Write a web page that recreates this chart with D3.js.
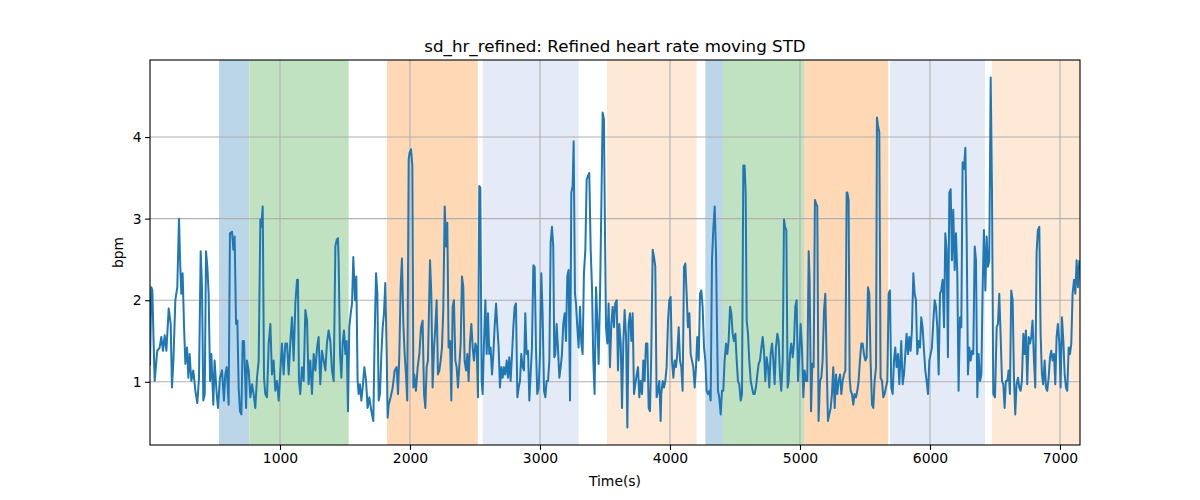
<!DOCTYPE html>
<html><head><meta charset="utf-8">
<script src="https://cdn.jsdelivr.net/npm/d3@7"></script>
<style>body{margin:0;background:#fff}svg{font-family:"DejaVu Sans",sans-serif}</style>
</head><body>
<script>
const title = "sd_hr_refined: Refined heart rate moving STD";
const xLabel = "Time(s)";
const yLabel = "bpm";
const xTicks = [1000,2000,3000,4000,5000,6000,7000];
const yTicks = [1,2,3,4];
const xMax = 7154;

const spanStart = [531,764,1823,2559,3515,4272,4408,5036,5692,6477];
const spanEnd   = [764,1528,2521,3297,4205,4408,5036,5679,6423,7154];
const spanKind  = ["blue","green","orange","lblue","lorange","blue","green","orange","lblue","lorange"];

const times = [0,10,18,28,36,49,56,74,87,100,113,126,144,159,169,180,195,210,223,233,241,251,262,272,285,295,305,318,333,349,364,377,390,400,410,421,431,441,451,462,472,487,497,513,523,538,554,569,579,590,605,615,631,641,651,662,672,682,692,703,713,723,
739,746,759,772,785,797,810,823,836,849,856,867,877,887,900,913,926,938,951,964,977,990,1003,1015,1028,1041,1054,1067,1079,1092,1105,1118,1131,1138,1146,1156,1169,1182,1195,1208,1220,1233,1246,1259,1272,1285,1297,1310,1323,1336,1349,1361,1374,1387,1400,1413,1426,1436,1446,
1451,1462,1472,1482,1492,1503,1513,1523,1533,1544,1554,1564,1577,1587,1597,1605,1615,1626,1636,1649,1662,1674,1687,1703,1718,1728,1739,1749,1759,1769,1780,1790,1800,1810,1821,1828,1836,1851,1867,1882,1897,1908,1918,1928,1938,1949,1959,1969,1979,1990,1997,2008,2018,2026,2033,2046,2059,2072,2085,2097,2108,2118,2128,2138,2154,2164,
2174,2185,2195,2205,2215,2226,2236,2246,2256,2267,2277,2287,2297,2308,2318,2328,2338,2349,2359,2369,2379,2390,2400,2410,2420,2431,2441,2451,2461,2472,2482,2492,2503,2513,2523,2533,2541,2551,2559,2569,2580,2590,2600,2610,2620,2631,2641,2651,2662,2672,2682,2692,2703,2713,2723,2733,2744,2754,2764,2774,2785,2795,2805,2815,2826,2836,2846,2856,2867,2877,
2887,2897,2908,2918,2928,2938,2949,2959,2969,2979,2990,3000,3010,3020,3031,3041,3051,3062,3072,3082,3092,3102,3110,3118,3128,3138,3149,3159,3169,3179,3190,3200,3210,3220,3231,3241,3251,3259,3269,3277,3287,3297,3308,3318,3328,3338,3349,3359,3369,3379,3390,3400,3410,3420,3431,3441,3451,3462,3472,3482,3492,3500,3508,3518,3528,3538,3549,3559,3569,3579,3590,3600,
3610,3621,3631,3641,3651,3662,3672,3682,3692,3703,3713,3723,3733,3744,3754,3764,3774,3785,3795,3805,3815,3826,3836,3846,3856,3867,3877,3887,3897,3908,3918,3928,3933,3944,3954,3964,3974,3985,3995,4005,4015,4026,4036,4046,4056,4067,4077,4087,4097,4108,4118,4128,4138,4149,4159,4169,4179,4190,4200,4210,4221,4231,4241,4251,4262,4272,4282,4292,4303,4313,4323,
4333,4344,4354,4361,4369,4379,4390,4400,4410,4420,4431,4441,4451,4462,4472,4482,4492,4503,4513,4523,4533,4544,4554,4564,4574,4582,4590,4600,4610,4621,4631,4641,4651,4661,4672,4682,4692,4703,4713,4723,4733,4744,4754,4764,4774,4785,4795,4805,4815,4826,4836,4846,4856,4867,4877,4885,4895,4905,4913,4923,4933,4944,4954,4964,4974,4985,4995,5005,5015,5026,5036,5046,
5056,5067,5074,5085,5095,5105,5115,5123,5133,5143,5154,5164,5174,5185,5195,5205,5215,5225,5236,5246,5256,5267,5277,5287,5297,5308,5318,5328,5338,5349,5359,5364,5374,5382,5390,5400,5410,5420,5431,5441,5451,5461,5472,5482,5492,5503,5513,5523,5533,5543,5554,5564,5574,5585,5592,5600,5610,5620,5631,5641,5651,5661,5672,5682,5692,5702,5713,5723,5733,5743,5754,5764,
5779,5790,5800,5810,5820,5831,5841,5851,5861,5872,5882,5892,5902,5913,5923,5933,5943,5954,5964,5974,5985,5995,6005,6015,6026,6036,6046,6056,6067,6077,6087,6097,6108,6118,6128,6138,6149,6159,6169,6179,6190,6200,6210,6220,6231,6241,6251,6262,6272,6282,6292,6303,6313,6323,6333,6344,6354,6364,6374,6385,6395,6405,6415,6426,6436,6446,6456,6467,6477,6487,
6500,6513,6523,6533,6543,6554,6564,6574,6584,6595,6605,6615,6625,6636,6646,6656,6666,6677,6687,6697,6707,6718,6728,6738,6748,6759,6769,6779,6789,6800,6810,6820,6830,6841,6851,6861,6871,6882,6892,6902,6913,6923,6933,6943,6954,6964,6974,6984,6995,7005,7015,7026,7036,7046,7056,7067,7077,7087,7097,7108,7118,7128,7138,7149,7154];

const values = [1.2,2.16,2.12,1.47,1.01,1.26,1.38,1.42,1.55,1.38,1.57,1.38,1.9,1.71,0.93,1.26,2.0,2.16,3.0,2.41,2.08,2.33,1.67,1.22,1.42,1.05,1.34,1.01,1.14,0.89,0.74,1.05,2.6,2.16,0.77,0.85,2.6,2.41,2.08,1.01,1.34,0.72,1.26,0.85,0.68,1.05,1.14,0.77,1.09,1.18,0.72,2.82,2.84,2.62,2.78,1.71,1.75,0.93,0.64,0.6,1.5,
1.5,0.68,1.26,1.14,0.81,0.97,0.85,0.68,1.05,1.26,2.99,2.9,3.15,1.05,0.85,0.81,1.47,1.71,1.09,1.26,0.89,1.01,0.77,1.14,1.47,1.09,1.47,1.47,1.09,1.47,1.79,1.26,1.96,2.25,2.25,1.01,0.85,1.18,1.01,1.88,1.75,0.97,1.26,0.85,1.34,1.14,1.42,1.55,0.97,1.38,1.26,1.14,1.47,1.63,1.5,1.14,1.01,2.66,2.74,
2.76,2.49,1.34,1.05,1.47,1.63,1.34,1.5,0.64,1.67,1.84,1.96,2.53,2.0,2.29,1.01,0.85,0.97,0.77,0.93,1.18,1.01,0.68,0.81,0.64,0.52,1.55,2.33,2.08,0.77,0.85,1.34,1.67,1.84,2.21,1.34,0.56,0.72,0.81,0.93,1.14,1.18,0.85,1.34,2.16,2.51,1.71,1.34,1.09,0.77,3.73,3.81,3.85,3.65,0.93,1.09,0.89,1.18,1.34,1.67,1.75,0.85,0.68,1.18,1.26,2.49,
2.08,0.93,1.42,1.67,2.0,1.09,1.14,1.26,1.42,1.88,3.15,2.66,2.95,1.42,1.5,0.77,1.92,2.0,1.26,1.18,0.93,1.18,1.47,2.29,2.16,1.26,1.14,1.34,1.01,1.47,1.71,1.42,1.26,1.47,1.42,0.81,3.4,3.38,1.01,0.85,1.47,2.0,1.34,1.84,1.34,1.42,1.09,1.34,1.67,1.96,1.67,1.42,0.93,1.18,1.05,1.18,1.09,1.26,1.05,1.3,1.01,1.34,1.67,1.92,1.96,0.81,0.93,1.01,1.34,1.18,
1.14,1.84,1.34,1.38,0.77,1.09,1.42,2.43,2.41,1.42,0.85,0.93,1.34,2.33,1.84,0.89,0.81,1.01,1.01,1.26,2.7,2.9,2.66,1.3,1.34,1.71,1.42,1.05,1.18,1.34,1.71,1.84,1.5,2.29,2.37,0.77,3.32,3.4,3.95,2.08,1.96,1.67,1.42,1.92,1.47,1.34,2.33,2.62,3.48,3.52,3.56,2.62,2.16,1.26,0.85,2.16,1.75,1.22,2.08,3.15,4.3,4.22,2.82,1.67,1.47,1.96,1.18,1.71,1.92,1.67,1.96,2.0,
1.14,1.71,1.47,0.68,1.47,1.88,1.55,0.44,1.71,1.84,1.5,1.84,0.85,0.97,1.09,1.18,0.81,1.01,0.85,1.26,1.01,1.47,1.47,0.68,0.64,1.34,2.62,2.53,2.41,0.81,0.89,1.01,0.52,0.85,1.01,0.93,1.01,1.18,1.75,2.0,2.04,1.26,1.05,1.26,1.18,1.34,1.67,1.26,1.18,0.89,2.41,2.45,2.08,1.67,1.84,1.34,1.26,1.18,0.93,1.18,1.55,1.26,2.08,2.12,1.92,1.42,1.26,0.89,0.85,0.89,0.77,
2.49,2.86,3.15,2.58,1.75,0.89,0.81,0.6,0.89,0.89,1.26,1.47,1.34,1.5,1.92,1.84,1.59,1.5,1.59,1.26,1.01,0.97,0.77,0.85,3.65,3.65,3.32,1.75,1.59,1.26,1.01,0.93,0.85,0.85,0.93,1.09,1.22,1.26,1.42,1.55,1.38,1.01,1.3,1.18,0.93,1.34,1.47,1.26,0.97,1.42,1.59,1.5,1.09,0.89,1.26,2.99,2.9,2.86,0.93,1.01,1.34,1.47,1.3,1.47,1.92,2.0,1.01,1.34,1.71,1.42,0.81,1.14,
1.01,1.01,2.6,2.25,0.64,1.22,1.18,3.23,3.19,3.15,0.52,1.01,1.05,1.26,1.88,2.08,1.26,0.52,0.6,0.68,0.85,1.18,0.68,1.09,0.85,1.01,1.09,0.85,1.01,1.09,1.14,3.32,3.32,3.23,1.05,0.89,0.85,0.72,0.85,0.81,0.89,1.01,1.26,1.47,1.47,1.34,1.26,1.3,2.16,2.08,1.26,0.72,0.68,1.01,1.18,4.24,4.14,4.06,1.05,1.01,0.81,0.85,0.93,1.01,2.08,2.12,0.93,0.85,1.26,1.42,1.18,1.34,
0.97,1.5,0.97,1.09,1.34,1.59,1.34,1.55,1.38,1.63,2.33,2.08,2.0,1.34,1.5,1.42,1.79,1.67,1.38,1.14,1.01,0.85,1.26,1.34,1.42,1.75,2.0,1.92,1.67,1.09,2.08,2.12,2.25,1.67,2.82,2.62,1.3,3.32,3.36,2.49,3.11,2.37,2.82,2.33,0.89,1.79,1.67,3.69,3.61,3.87,2.82,1.09,1.42,1.26,1.38,1.34,2.66,2.49,0.81,1.34,1.01,1.09,2.12,2.86,2.12,2.78,2.41,2.49,4.73,3.32,
0.85,0.81,1.67,1.71,2.08,1.59,1.01,0.97,0.68,1.01,1.01,1.14,0.85,2.12,2.0,1.05,0.6,0.97,1.05,0.93,0.89,1.01,1.59,1.34,1.63,0.97,1.55,1.47,1.55,1.75,1.26,0.93,2.58,2.86,2.9,1.59,1.09,0.97,1.26,0.93,0.89,1.05,1.3,1.38,1.26,1.34,0.97,1.55,1.71,1.47,0.93,1.79,1.5,1.09,0.93,0.89,1.42,1.34,1.47,2.08,2.25,2.08,2.49,2.16,2.49];

const spanColor = {blue:"#bbd6e8", green:"#c0e2c0", orange:"#ffd8b6", lblue:"#e4ebf6", lorange:"#fee9d6"};

const W = 1200, H = 500;
const m = {left:150, right:120, top:60, bottom:55};
const svg = d3.select("body").append("svg").attr("width",W).attr("height",H);

const data = times.map((t,i)=>({t, v: values[i]}));
const vmin = d3.min(values), vmax = d3.max(values), pad = (vmax - vmin) * 0.05;
const x = d3.scaleLinear().domain([0, xMax]).range([m.left, W - m.right]);
const y = d3.scaleLinear().domain([vmin - pad, vmax + pad]).range([H - m.bottom, m.top]);

const clip = svg.append("clipPath").attr("id","c").append("rect")
  .attr("x", m.left).attr("y", m.top).attr("width", W-m.left-m.right).attr("height", H-m.top-m.bottom);

const g = svg.append("g").attr("clip-path","url(#c)");
g.selectAll("rect.span").data(spanStart.map((s,i)=>({s, e: spanEnd[i], k: spanKind[i]})))
  .join("rect").attr("class","span")
  .attr("x", d=>x(d.s)).attr("width", d=>x(d.e)-x(d.s))
  .attr("y", m.top).attr("height", H-m.top-m.bottom)
  .attr("fill", d=>spanColor[d.k]);

// grid
g.selectAll("line.gx").data(xTicks).join("line").attr("class","gx")
  .attr("x1", d=>x(d)).attr("x2", d=>x(d)).attr("y1", m.top).attr("y2", H-m.bottom)
  .attr("stroke","#b0b0b0").attr("stroke-width",1.1);
g.selectAll("line.gy").data(yTicks).join("line").attr("class","gy")
  .attr("y1", d=>y(d)).attr("y2", d=>y(d)).attr("x1", m.left).attr("x2", W-m.right)
  .attr("stroke","#b0b0b0").attr("stroke-width",1.1);

g.append("path").datum(data)
  .attr("d", d3.line().x(d=>x(d.t)).y(d=>y(d.v)))
  .attr("fill","none").attr("stroke","#1f77b4").attr("stroke-width",2).attr("stroke-linejoin","round");

const xa = svg.append("g").attr("transform",`translate(0,${H-m.bottom})`)
  .call(d3.axisBottom(x).tickValues(xTicks).tickFormat(d3.format("d")).tickSize(4.9).tickPadding(3.5));
const ya = svg.append("g").attr("transform",`translate(${m.left},0)`)
  .call(d3.axisLeft(y).tickValues(yTicks).tickFormat(d3.format("d")).tickSize(4.9).tickPadding(3.5));
[xa, ya].forEach(a=>{
  a.select(".domain").remove();
  a.selectAll("line").attr("stroke","#000").attr("stroke-width",1.1);
  a.selectAll("text").attr("font-size","13.9px").attr("fill","#000").attr("font-family","DejaVu Sans");
});

svg.append("rect").attr("x", m.left).attr("y", m.top)
  .attr("width", W-m.left-m.right).attr("height", H-m.top-m.bottom)
  .attr("fill","none").attr("stroke","#000").attr("stroke-width",1.1);

svg.append("text").attr("x",(m.left + W - m.right)/2).attr("y",52)
  .attr("text-anchor","middle").attr("font-size","16.7px").text(title);
svg.append("text").attr("x",(m.left + W - m.right)/2).attr("y",486)
  .attr("text-anchor","middle").attr("font-size","13.9px").text(xLabel);
svg.append("text").attr("transform",`translate(123,${(m.top + H - m.bottom)/2}) rotate(-90)`)
  .attr("text-anchor","middle").attr("font-size","13.9px").text(yLabel);
</script>
</body></html>
